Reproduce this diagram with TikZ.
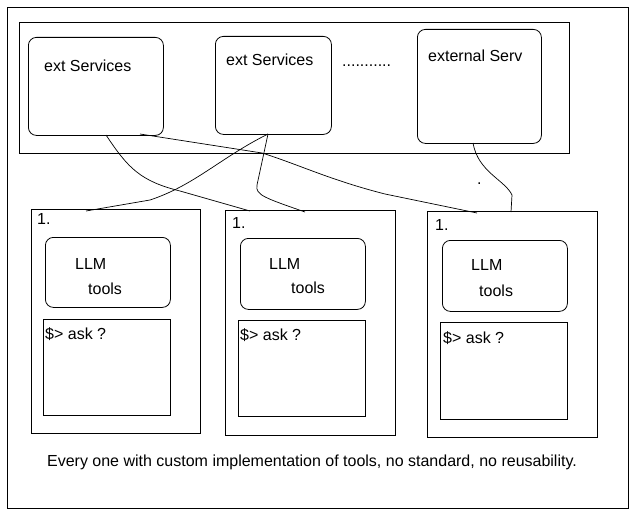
\documentclass[tikz,border=0pt]{standalone}
\usepackage{fontspec}
\setmainfont{Liberation Sans}
\usepackage{tikz}

\tikzset{
  frame/.style={draw, line width=0.8pt, anchor=north west, inner sep=0pt},
  roundbox/.style={frame, rounded corners=8pt},
  txt/.style={anchor=west, inner sep=0pt, font=\fontsize{16}{18}\selectfont},
  wire/.style={line width=0.7pt},
}

\begin{document}
\begin{tikzpicture}[x=1pt, y=-1pt]
\useasboundingbox (0,0) rectangle (644,519);
% frames
\node[frame, minimum width=621pt, minimum height=501pt] (outer) at (7,7) {};
\node[frame, minimum width=550pt, minimum height=131pt] (top) at (19,22) {};
% services
\node[roundbox, minimum width=135pt, minimum height=98pt] (s1) at (28,37) {};
\node[roundbox, minimum width=116pt, minimum height=98pt] (s2) at (215,36) {};
\node[roundbox, minimum width=124pt, minimum height=114pt] (s3) at (417,29) {};
\node[txt] (s1t) at (44,66) {ext Services};
\node[txt] (s2t) at (226,60) {ext Services};
\node[txt] (dots) at (342,66) {...........};
\node[txt] (s3t) at (428,56) {external Serv};
% agents
\node[frame, minimum width=169pt, minimum height=224pt] (a1) at (31,209) {};
\node[frame, minimum width=170pt, minimum height=225pt] (a2) at (225,210) {};
\node[frame, minimum width=170pt, minimum height=226pt] (a3) at (427,211) {};
\node[roundbox, minimum width=125pt, minimum height=70pt] (l1) at (45,237) {};
\node[roundbox, minimum width=125pt, minimum height=71pt] (l2) at (240,238) {};
\node[roundbox, minimum width=125pt, minimum height=71pt] (l3) at (442,240) {};
\node[frame, minimum width=127pt, minimum height=96pt] (q1) at (43,319) {};
\node[frame, minimum width=127pt, minimum height=96pt] (q2) at (238,320) {};
\node[frame, minimum width=127pt, minimum height=97pt] (q3) at (440,322) {};
\node[txt] (n1) at (37,219) {1.};
\node[txt] (n2) at (232,223) {1.};
\node[txt] (n3) at (435,225) {1.};
\node[txt] (llm1) at (75,264) {LLM};
\node[txt] (llm2) at (269,264) {LLM};
\node[txt] (llm3) at (471,265) {LLM};
\node[txt] (tl1) at (88,289) {tools};
\node[txt] (tl2) at (291,288) {tools};
\node[txt] (tl3) at (479,291) {tools};
\node[txt] (ask1) at (45,334) {\$> ask ?};
\node[txt] (ask2) at (240,335) {\$> ask ?};
\node[txt] (ask3) at (443,338) {\$> ask ?};
\node[txt] (dot) at (477,184) {.};
\node[txt, anchor=center] (caption) at (312,462) {Every one with custom implementation of tools, no standard, no reusability.};
% wire ends
\coordinate (s1a) at (106,135);
\coordinate (s1b) at (140,134);
\coordinate (s2a) at (268,134);
\coordinate (s3a) at (473,143);
\coordinate (a1a) at (86,211);
\coordinate (a2a) at (250,211);
\coordinate (a2b) at (305,212);
\coordinate (a3a) at (477,213);
\coordinate (a3b) at (511,212);
% wires
\draw[wire] (s1a) .. controls (128,168) and (140,181) .. (180,191) -- (a2a);
\draw[wire] (s1b) -- (262,153) .. controls (300,165) and (330,180) .. (385,194) -- (a3a);
\draw[wire] (s2a) .. controls (220,158) and (195,185) .. (150,200) -- (a1a);
\draw[wire] (s2a) -- (257,185) .. controls (255,195) and (265,198) .. (a2b);
\draw[wire] (s3a) .. controls (478,172) and (505,180) .. (512,195) -- (a3b);
\end{tikzpicture}
\end{document}
